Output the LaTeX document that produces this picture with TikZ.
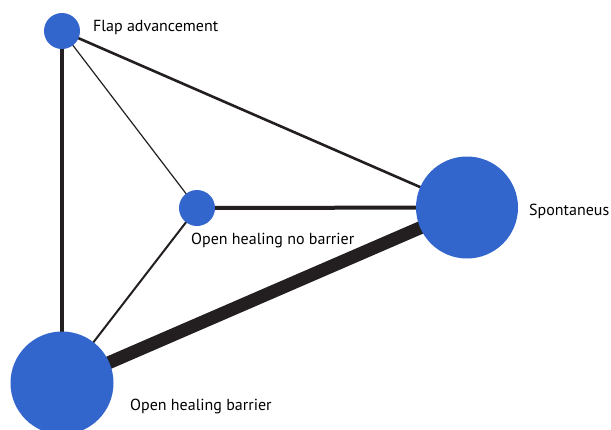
\documentclass[tikz,border=0pt]{standalone}
\usepackage{fontspec}
\setmainfont{PT Sans}
\usetikzlibrary{backgrounds}
\definecolor{nodeblue}{HTML}{3366CC}
\definecolor{edgedark}{HTML}{231F20}
\begin{document}
\begin{tikzpicture}[x=1pt,y=-1pt,
  trt/.style={circle,fill=nodeblue,draw=none,inner sep=0pt,minimum size=#1},
  lbl/.style={anchor=base west,inner sep=0pt,font=\fontsize{16pt}{18pt}\selectfont,text=black},
  edge/.style={draw=edgedark,line width=#1}]
\useasboundingbox (0,0) rectangle (611,429);
\node[trt=36pt] (fa) at (62,31) {};
\node[trt=36pt] (ohnb) at (197,208) {};
\node[trt=102pt] (sp) at (467,207.5) {};
\node[trt=103pt] (ohb) at (62,383) {};
\node[lbl] (lfa) at (93,31.5) {Flap advancement};
\node[lbl] (lohnb) at (191,244) {Open healing no barrier};
\node[lbl] (lsp) at (529,215) {Spontaneus};
\node[lbl] (lohb) at (130,410) {Open healing barrier};
\begin{scope}[on background layer]
\draw[edge=4pt] (fa.center) -- (ohb.center);
\draw[edge=2.6pt] (fa.center) -- (sp.center);
\draw[edge=1.2pt] (fa.center) -- (ohnb.center);
\draw[edge=4pt] (ohnb.center) -- (sp.center);
\draw[edge=2pt] (ohnb.center) -- (ohb.center);
\draw[edge=13pt] (ohb.center) -- (sp.center);
\end{scope}
\end{tikzpicture}
\end{document}
